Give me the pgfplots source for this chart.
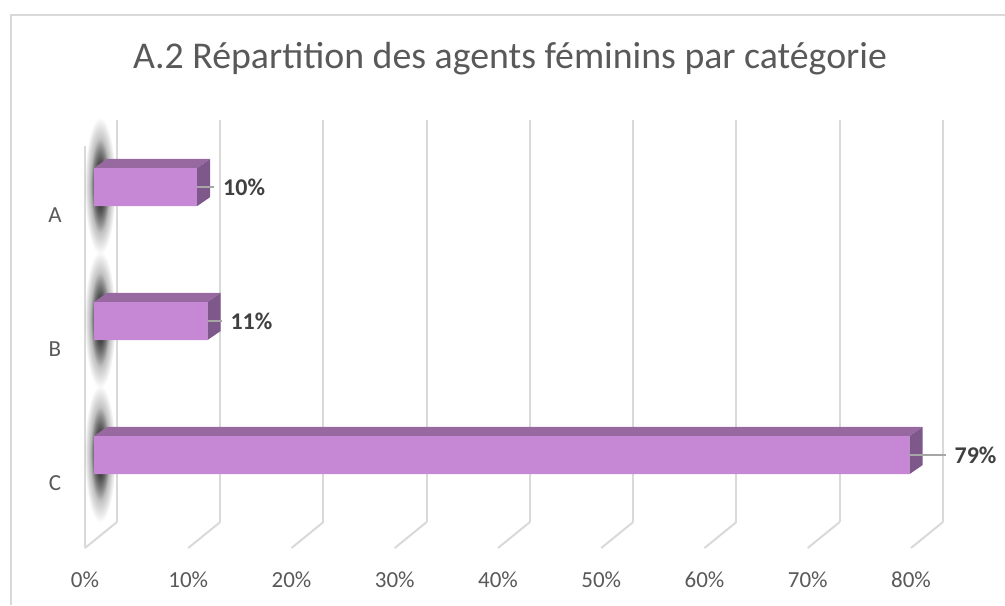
\documentclass[border=0pt]{standalone}
\usepackage{pgfplots}
\pgfplotsset{compat=1.18}
\usepackage{pgfplotstable}
\usetikzlibrary{fadings}
\usepackage{fontspec}
\setmainfont{Carlito}
\definecolor{frontc}{RGB}{198,135,212}
\definecolor{topc}{RGB}{152,104,160}
\definecolor{sidec}{RGB}{127,88,139}
\definecolor{gridc}{RGB}{217,217,217}
\definecolor{txtc}{RGB}{89,89,89}
\definecolor{lblc}{RGB}{64,64,64}
\definecolor{leadc}{RGB}{166,166,166}

\tikzfading[name=shfade, inner color=transparent!25, outer color=transparent!100]
\tikzfading[name=shcore, inner color=transparent!20, outer color=transparent!100]

% category, value (%), position, leader length
\pgfplotstableread{
cat v c lead
A 10 2 1.65
B 11 1 1.36
C 79 0 3.49
}\bars

\pgfplotstableread{
a b d
0 0.87 0.142
1 0.87 0.142
1 2.13 0.209
0 2.13 0.209
}\topface

\pgfplotstableread{
a b d
1 0.87 0.142
1 2.13 0.209
1 2.13 -0.075
1 0.87 -0.142
}\sideface

\newcommand\wallshadow[1]{%
 \fill[black, path fading=shfade] (axis cs:-0.05,#1-0.50) rectangle (axis cs:2.95,#1+0.52);
 \fill[black, path fading=shcore] (axis cs:0.55,#1-0.34) rectangle (axis cs:2.35,#1+0.36);
}
\newcommand\barfaces[2]{%
 \addplot[draw=none, mark=none, fill=topc] table[x expr=\thisrow{a}*#1+\thisrow{b}, y expr=#2+\thisrow{d}]{\topface};
 \addplot[draw=none, mark=none, fill=sidec] table[x expr=\thisrow{a}*#1+\thisrow{b}, y expr=#2+\thisrow{d}]{\sideface};
}

\begin{document}
\begin{tikzpicture}
\path[use as bounding box] (0,0) rectangle (502.5pt,302.5pt);
\draw[gridc, line width=1pt] (5.5pt,0) -- (5.5pt,295pt) -- (502.5pt,295pt);
\node[text=txtc, font=\fontsize{18.9}{22}\selectfont] at (255pt,273pt) {A.2 Répartition des agents féminins par catégorie};
\begin{axis}[
 at={(42.5pt,28.5pt)}, anchor=south west, scale only axis,
 width=413pt, height=201pt,
 xmin=0, xmax=80, ymin=-0.694, ymax=2.306,
 clip=false,
 axis line style={draw=none},
 major tick length=0pt,
 xtick={0,10,...,80}, ytick={0,1,2}, yticklabels={C,B,A},
 xticklabel={\pgfmathprintnumber{\tick}\%},
 /pgf/number format/assume math mode=true,
 ticklabel style={font=\fontsize{11.5}{13}\selectfont, text=txtc, anchor=center},
 xticklabel style={yshift=-16pt},
 yticklabel style={xshift=-15pt, yshift=-14pt},
]
\pgfplotsinvokeforeach{0,10,...,80}{
 \draw[gridc, line width=1pt] ([shift={(16pt,13pt)}]axis cs:#1,-0.694) -- ([shift={(16pt,13pt)}]axis cs:#1,2.306);
 \draw[gridc, line width=1pt] (axis cs:#1,-0.694) -- ([shift={(16pt,13pt)}]axis cs:#1,-0.694);
}
\draw[gridc, line width=1pt] (axis cs:0,-0.694) -- (axis cs:0,2.306);

\wallshadow{2}
\wallshadow{1}
\wallshadow{0}

\addplot[xbar, bar width=0.284, bar shift=0pt, fill=frontc, draw=none, xshift=4.5pt] table[x=v, y=c]{\bars};

\barfaces{10}{2}
\barfaces{11}{1}
\barfaces{79}{0}

\addplot[draw=none, mark=none, xshift=4.5pt,
  point meta=x,
  visualization depends on={\thisrow{lead}*5.1625+4.25 \as \lx},
  nodes near coords={\pgfmathprintnumber{\pgfplotspointmeta}\%},
  nodes near coords style={anchor=west, inner sep=0pt, xshift=\lx pt, font=\bfseries\fontsize{12}{14}\selectfont, text=lblc},
  error bars/.cd, x dir=plus, x explicit, error mark=none,
  error bar style={draw=leadc, line width=1pt, solid},
] table[x=v, y=c, x error=lead]{\bars};
\end{axis}
\end{tikzpicture}
\end{document}
